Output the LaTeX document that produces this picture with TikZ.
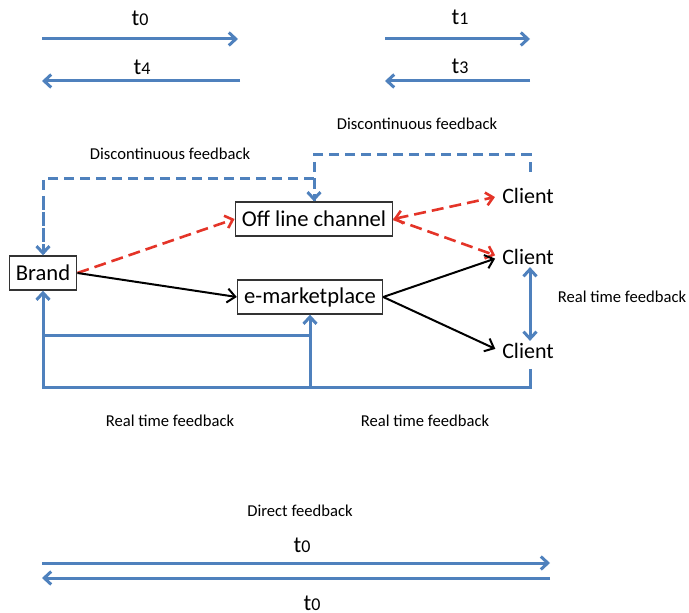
\documentclass[tikz,border=0pt]{standalone}
\usepackage{fontspec}
\setmainfont{Carlito}
\usepackage{tikz}
\usetikzlibrary{arrows.meta}
\definecolor{fbblue}{RGB}{79,129,189}
\definecolor{fbred}{RGB}{228,52,40}
\newcommand{\tlab}[1]{t{\fontsize{9}{9}\selectfont #1}}

\begin{document}
\begin{tikzpicture}
     [
     x=0.5pt, y=-0.5pt,
     chanbox/.style={rectangle, draw=black!80, fill=white, line width=0.7pt, inner xsep=3.3pt, minimum height=17pt, font=\fontsize{11.3}{13}\selectfont},
     client/.style={inner sep=1pt, font=\fontsize{11}{13}\selectfont},
     bigtext/.style={font=\fontsize{11.5}{13}\selectfont},
     smalltext/.style={font=\fontsize{8.3}{10}\selectfont},
     bluearrow/.style={draw=fbblue, line width=1.5pt, -{Straight Barb[length=3.5pt,width=6.5pt]}},
     blueline/.style={draw=fbblue, line width=1.5pt},
     bluedash/.style={draw=fbblue, line width=1.5pt, dash pattern=on 5pt off 3pt},
     reddash/.style={draw=fbred, line width=1.3pt, dash pattern=on 6pt off 3pt},
     blackarrow/.style={draw=black, line width=1pt, -{Straight Barb[length=4pt,width=7pt]}},
     ]
 \useasboundingbox (0,0) rectangle (689,613);
 \coordinate (a0s) at (42,39);  \coordinate (a0e) at (238,39);
 \coordinate (a4s) at (240,81); \coordinate (a4e) at (42,81);
 \coordinate (a1s) at (385,39); \coordinate (a1e) at (530,39);
 \coordinate (a3s) at (530,81); \coordinate (a3e) at (385,81);
 \node at (140,18) [bigtext] (t0lab) {\tlab{0}};
 \node at (142,67) [bigtext] (t4lab) {\tlab{4}};
 \node at (460,17) [bigtext] (t1lab) {\tlab{1}};
 \node at (460,66) [bigtext] (t3lab) {\tlab{3}};
 \draw[bluearrow] (a0s) -- (a0e);
 \draw[bluearrow] (a4s) -- (a4e);
 \draw[bluearrow] (a1s) -- (a1e);
 \draw[bluearrow] (a3s) -- (a3e);

 \node at (43,273) [chanbox] (brand) {Brand};
 \node at (314,219) [chanbox] (offline) {Off line channel};
 \node at (310,297) [chanbox] (emarket) {e-marketplace};
 \node at (528,196) [client] (client1) {Client};
 \node at (528,257) [client] (client2) {Client};
 \node at (528,351) [client] (client3) {Client};

 \node at (170,154) [smalltext] (disc1) {Discontinuous feedback};
 \node at (417,124) [smalltext] (disc2) {Discontinuous feedback};
 \node at (622,297) [smalltext] (real1) {Real time feedback};
 \node at (170,421) [smalltext] (real2) {Real time feedback};
 \node at (425,421) [smalltext] (real3) {Real time feedback};

 \coordinate (dtop) at (530,172);
 \coordinate (dcorner) at (530,155);
 \coordinate (djoin) at (314,179);
 \draw[bluedash] (dtop) -- (dcorner) -| (offline.north);
 \draw[bluedash] (djoin) -| (brand.north);
 \draw[bluedash, -{Straight Barb[length=3.5pt,width=6.5pt]}] (offline.north |- djoin) -- (offline.north);
 \draw[bluedash, -{Straight Barb[length=3.5pt,width=6.5pt]}] (brand.north |- 0,200) -- (brand.north);

 \draw[reddash, -{Straight Barb[length=3.5pt,width=6.5pt]}] (brand.east) -- (offline.west);
 \draw[reddash, shorten >=2.5pt, {Straight Barb[length=3.5pt,width=6.5pt]}-{Straight Barb[length=3.5pt,width=6.5pt]}] (offline.east) -- (client1.west);
 \draw[reddash, shorten >=2.5pt, -{Straight Barb[length=3.5pt,width=6.5pt]}] (offline.east) -- (client2.west);

 \draw[blackarrow] (brand.east) -- (emarket.west);
 \draw[blackarrow, shorten >=2.5pt] (emarket.east) -- (client2.west);
 \draw[blackarrow, shorten >=2.5pt] (emarket.east) -- (client3.west);

 \draw[bluearrow, {Straight Barb[length=3.5pt,width=6.5pt]}-{Straight Barb[length=3.5pt,width=6.5pt]}] ([xshift=1pt]client2.south) -- ([xshift=1pt]client3.north);

 \coordinate (cfoot) at (530,369);
 \coordinate (cbase) at (530,388);
 \coordinate (inl) at (43,336);
 \coordinate (inr) at (311,336);
 \draw[bluearrow] (cfoot) -- (cbase) -| (brand.south);
 \draw[blueline] (inl) -- (inr);
 \draw[bluearrow] (emarket.south |- cbase) -- (emarket.south);

 \node at (300,511) [smalltext] (direct) {Direct feedback};
 \node at (302,545) [bigtext] (t0up) {\tlab{0}};
 \node at (312,603) [bigtext] (t0down) {\tlab{0}};
 \coordinate (d1s) at (42,563);  \coordinate (d1e) at (550,563);
 \coordinate (d2s) at (550,578); \coordinate (d2e) at (42,578);
 \draw[bluearrow] (d1s) -- (d1e);
 \draw[bluearrow] (d2s) -- (d2e);
\end{tikzpicture}
\end{document}
